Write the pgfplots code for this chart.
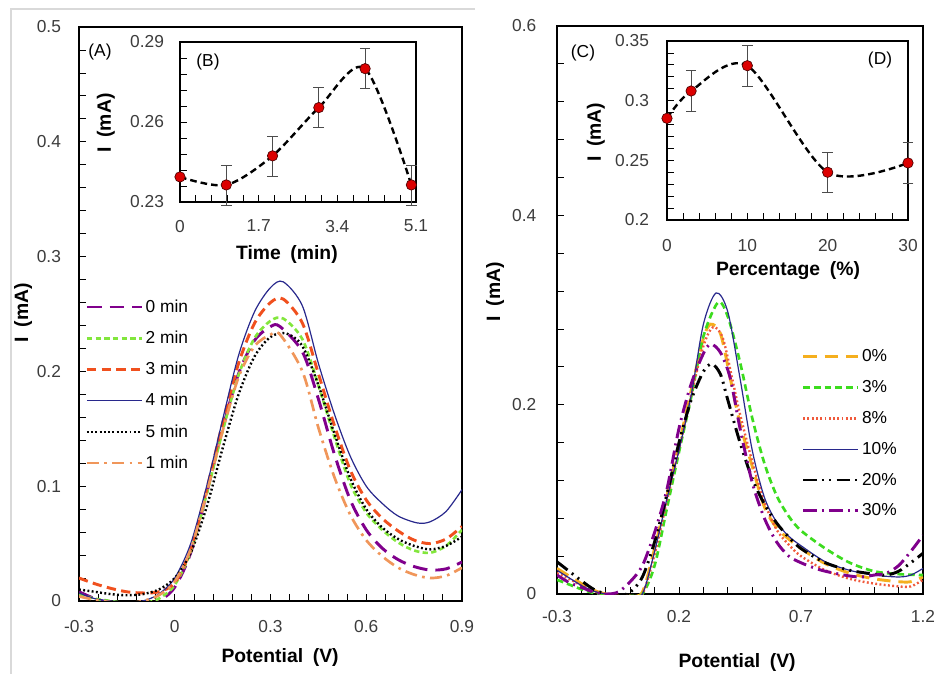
\documentclass[border=0pt]{standalone}
\usepackage{fontspec}
\setmainfont{Liberation Sans}
\usepackage{pgfplots}
\pgfplotsset{compat=1.18}

\definecolor{cpurple}{RGB}{128,0,140}
\definecolor{cgreen}{RGB}{130,230,60}
\definecolor{cred}{RGB}{240,80,30}
\definecolor{cnavy}{RGB}{40,40,140}
\definecolor{corange}{RGB}{240,150,90}
\definecolor{cgold}{RGB}{245,175,30}
\definecolor{cgreen2}{RGB}{60,220,30}
\definecolor{ccoral}{RGB}{240,90,60}
\definecolor{ticktext}{RGB}{60,60,60}
\definecolor{mkred}{RGB}{220,0,0}

\pgfplotsset{
  panel/.style={
    scale only axis,
    axis line style={line width=0.8pt},
    tick align=inside,
    tick pos=left,
    major tick length=5pt, minor tick length=5pt,
    tick style={black, line width=0.6pt},
    tick label style={font=\fontsize{13}{15}\selectfont, text=ticktext},
    label style={font=\bfseries\fontsize{14.5}{17}\selectfont},
    minor x tick num=4, minor y tick num=4,
  },
  leg/.style={
    legend style={draw=none, fill=none, inner sep=0pt, row sep=8.5pt,
      font=\fontsize{13}{15}\selectfont, cells={anchor=west}},
    legend image code/.code={\draw[##1] (0pt,0pt) -- (41pt,0pt);},
  },
  errpts/.style={only marks, mark=*, mark size=3.9pt,
    mark options={fill=mkred, draw=black!70!red, line width=0.5pt},
    error bars/.cd, y dir=both, y explicit,
    error bar style={black!70, line width=0.5pt},
    error mark options={rotate=90, mark size=4pt, black!70, line width=0.5pt}},
  pts/.style={only marks, mark=*, mark size=3.9pt,
    mark options={fill=mkred, draw=black!70!red, line width=0.5pt}},
}

\begin{document}
\begin{tikzpicture}
\useasboundingbox (0,0) rectangle (703.5pt,505.5pt);
\draw[black!15, line width=0.8pt] (8.25pt,0pt) -- (8.25pt,498.75pt) -- (356pt,498.75pt);

% ---------------- (A) ----------------
\begin{axis}[panel, leg, at={(59.25pt,54.75pt)}, anchor=south west,
  width=287.25pt, height=430.5pt,
  xmin=-0.3, xmax=0.9, ymin=0, ymax=0.5,
  xtick={-0.3,0,0.3,0.6,0.9}, xticklabels={-0.3,0,0.3,0.6,0.9},
  ytick={0,0.1,0.2,0.3,0.4,0.5}, yticklabels={0,0.1,0.2,0.3,0.4,0.5},
  xticklabel style={yshift=-11pt}, yticklabel style={xshift=-10pt},
  xlabel={Potential\enspace(V)}, ylabel={I\enspace(mA)},
  xlabel style={at={(axis description cs:0.525,-0.099)}, anchor=center},
  ylabel style={at={(axis description cs:-0.146,0.502)}, anchor=center},
  legend style={at={(axis description cs:0.016,0.53)}, anchor=north west},
]
\addplot[cpurple, line width=2.2pt, dash pattern=on 11pt off 6pt, smooth] coordinates {
(-0.3,0.008)(-0.25,0.002)(-0.2,-0.002)(-0.15,-0.004)(-0.1,-0.003)(-0.05,0.0)(0,0.012)(0.05,0.042)(0.1,0.094)(0.15,0.15)(0.2,0.198)(0.25,0.227)(0.3,0.239)(0.33,0.239)(0.4,0.217)(0.45,0.176)(0.5,0.128)(0.55,0.088)(0.6,0.062)(0.65,0.046)(0.7,0.036)(0.75,0.03)(0.8,0.027)(0.85,0.028)(0.9,0.034)};
\addlegendentry{0 min}
\addplot[cgreen, line width=2pt, dash pattern=on 4pt off 2.5pt, smooth] coordinates {
(-0.3,0.006)(-0.25,0.002)(-0.2,0.0)(-0.15,-0.002)(-0.1,-0.002)(-0.05,0.002)(0,0.014)(0.05,0.043)(0.1,0.093)(0.15,0.148)(0.2,0.197)(0.25,0.229)(0.3,0.244)(0.34,0.246)(0.4,0.228)(0.45,0.188)(0.5,0.143)(0.55,0.102)(0.6,0.077)(0.65,0.062)(0.7,0.051)(0.75,0.044)(0.8,0.042)(0.85,0.048)(0.9,0.062)};
\addlegendentry{2 min}
\addplot[cred, line width=2.2pt, dash pattern=on 7pt off 4pt, smooth] coordinates {
(-0.3,0.02)(-0.25,0.015)(-0.2,0.011)(-0.15,0.008)(-0.1,0.007)(-0.05,0.008)(0,0.016)(0.05,0.045)(0.1,0.097)(0.15,0.155)(0.2,0.207)(0.25,0.242)(0.3,0.26)(0.34,0.263)(0.4,0.242)(0.45,0.198)(0.5,0.153)(0.55,0.114)(0.6,0.088)(0.65,0.072)(0.7,0.061)(0.75,0.053)(0.8,0.05)(0.85,0.054)(0.9,0.065)};
\addlegendentry{3 min}
\addplot[cnavy, line width=0.9pt, smooth] coordinates {
(-0.3,0.007)(-0.25,0.002)(-0.2,0.0)(-0.15,-0.001)(-0.1,0.0)(-0.05,0.006)(0,0.02)(0.05,0.05)(0.1,0.1)(0.15,0.158)(0.2,0.214)(0.25,0.252)(0.3,0.273)(0.34,0.278)(0.4,0.257)(0.45,0.207)(0.5,0.163)(0.55,0.126)(0.6,0.1)(0.65,0.085)(0.7,0.074)(0.76,0.068)(0.8,0.069)(0.85,0.078)(0.9,0.097)};
\addlegendentry{4 min}
\addplot[black, line width=1.8pt, dash pattern=on 1.4pt off 1.8pt, smooth] coordinates {
(-0.3,0.01)(-0.25,0.008)(-0.2,0.006)(-0.15,0.005)(-0.1,0.006)(-0.05,0.01)(0,0.02)(0.05,0.042)(0.1,0.082)(0.15,0.133)(0.2,0.18)(0.25,0.213)(0.3,0.23)(0.35,0.233)(0.4,0.222)(0.45,0.188)(0.5,0.146)(0.55,0.107)(0.6,0.08)(0.65,0.064)(0.7,0.054)(0.75,0.048)(0.8,0.045)(0.85,0.048)(0.9,0.056)};
\addlegendentry{5 min}
\addplot[corange, line width=2pt, dash pattern=on 9pt off 4pt on 2pt off 4pt, smooth] coordinates {
(-0.3,0.004)(-0.25,0.001)(-0.2,-0.001)(-0.15,-0.002)(-0.1,0.0)(-0.05,0.005)(0,0.017)(0.05,0.045)(0.1,0.094)(0.15,0.148)(0.2,0.195)(0.25,0.222)(0.3,0.232)(0.33,0.232)(0.4,0.2)(0.45,0.151)(0.5,0.108)(0.55,0.075)(0.6,0.053)(0.65,0.039)(0.7,0.029)(0.75,0.023)(0.8,0.02)(0.85,0.022)(0.9,0.029)};
\addlegendentry{1 min}
\end{axis}

% ---------------- (B) ----------------
\begin{axis}[panel, at={(135pt,354pt)}, anchor=south west,
  width=177pt, height=120pt,
  xmin=0, xmax=5.1, ymin=0.23, ymax=0.29,
  xtick={0,1.7,3.4,5.1}, xticklabels={0,1.7,3.4,5.1},
  ytick={0.23,0.26,0.29}, yticklabels={0.23,0.26,0.29},
  xticklabel style={yshift=-10pt}, yticklabel style={xshift=-8.5pt},
  xlabel={Time\enspace(min)}, ylabel={I\enspace(mA)},
  xlabel style={at={(axis description cs:0.453,-0.33)}, anchor=center},
  ylabel style={at={(axis description cs:-0.314,0.494)}, anchor=center},
  clip=false,
]
\addplot[black, line width=1.8pt, dash pattern=on 5pt off 3pt, smooth] coordinates {
(0,0.2394)(1,0.2364)(2,0.2473)(3,0.2654)(4,0.28)(5,0.2364)};
\addplot[errpts] coordinates {
(1,0.2364) +- (0,0.0075)
(2,0.2473) +- (0,0.0075)
(3,0.2654) +- (0,0.0075)
(4,0.2800) +- (0,0.0075)
(5,0.2364) +- (0,0.0075)};
\addplot[pts] coordinates {(0,0.2394)};
\end{axis}

% ---------------- (C) ----------------
\begin{axis}[panel, leg, at={(417.75pt,60pt)}, anchor=south west,
  width=274.5pt, height=426pt,
  xmin=-0.3, xmax=1.2, ymin=0, ymax=0.6,
  xtick={-0.3,0.2,0.7,1.2}, xticklabels={-0.3,0.2,0.7,1.2},
  ytick={0,0.2,0.4,0.6}, yticklabels={0,0.2,0.4,0.6},
  xticklabel style={yshift=-8.5pt}, yticklabel style={xshift=-12pt},
  xlabel={Potential\enspace(V)}, ylabel={I\enspace(mA)},
  xlabel style={at={(axis description cs:0.492,-0.12)}, anchor=center},
  ylabel style={at={(axis description cs:-0.169,0.532)}, anchor=center},
  legend style={at={(axis description cs:0.668,0.435)}, anchor=north west},
]
\addplot[cgold, line width=2.2pt, dash pattern=on 10pt off 6pt, smooth] coordinates {
(-0.3,0.027)(-0.25,0.019)(-0.2,0.011)(-0.15,0.004)(-0.1,0.0)(-0.05,-0.002)(0,-0.002)(0.05,0.002)(0.1,0.048)(0.15,0.103)(0.2,0.158)(0.25,0.215)(0.3,0.27)(0.33,0.285)(0.37,0.275)(0.41,0.228)(0.45,0.18)(0.5,0.135)(0.55,0.092)(0.6,0.07)(0.65,0.058)(0.7,0.048)(0.8,0.032)(0.9,0.022)(1.0,0.016)(1.1,0.013)(1.15,0.013)(1.2,0.018)};
\addlegendentry{0\%}
\addplot[cgreen2, line width=2pt, dash pattern=on 5pt off 3pt, smooth] coordinates {
(-0.3,0.015)(-0.25,0.01)(-0.2,0.005)(-0.15,0.001)(-0.1,-0.002)(0,-0.002)(0.05,0.0)(0.1,0.03)(0.15,0.09)(0.2,0.15)(0.25,0.208)(0.3,0.272)(0.36,0.308)(0.4,0.293)(0.45,0.245)(0.5,0.186)(0.55,0.138)(0.6,0.104)(0.65,0.082)(0.7,0.067)(0.8,0.048)(0.9,0.033)(1.0,0.024)(1.1,0.021)(1.2,0.02)};
\addlegendentry{3\%}
\addplot[ccoral, line width=1.8pt, dash pattern=on 1.4pt off 1.8pt, smooth] coordinates {
(-0.3,0.022)(-0.25,0.016)(-0.2,0.009)(-0.15,0.003)(-0.1,0.0)(-0.05,-0.002)(0,-0.002)(0.05,0.0)(0.1,0.042)(0.15,0.098)(0.2,0.153)(0.25,0.21)(0.3,0.262)(0.34,0.282)(0.38,0.27)(0.42,0.225)(0.45,0.19)(0.5,0.14)(0.55,0.097)(0.6,0.068)(0.65,0.052)(0.7,0.04)(0.8,0.025)(0.9,0.016)(1.0,0.011)(1.1,0.008)(1.15,0.008)(1.2,0.015)};
\addlegendentry{8\%}
\addplot[cnavy, line width=0.9pt, smooth] coordinates {
(-0.3,0.025)(-0.25,0.017)(-0.2,0.009)(-0.15,0.003)(-0.1,0.0)(-0.05,-0.002)(0,-0.002)(0.05,0.0)(0.1,0.045)(0.15,0.1)(0.2,0.152)(0.25,0.21)(0.3,0.285)(0.352,0.318)(0.4,0.298)(0.45,0.228)(0.5,0.152)(0.55,0.102)(0.6,0.076)(0.65,0.061)(0.7,0.051)(0.8,0.034)(0.9,0.025)(1.0,0.02)(1.1,0.018)(1.15,0.02)(1.2,0.027)};
\addlegendentry{10\%}
\addplot[black, line width=2.2pt, dash pattern=on 10pt off 4pt on 1.5pt off 4pt on 1.5pt off 4pt, smooth] coordinates {
(-0.3,0.034)(-0.25,0.024)(-0.2,0.014)(-0.15,0.005)(-0.1,0.0)(-0.05,-0.002)(0,0.002)(0.05,0.018)(0.1,0.055)(0.15,0.105)(0.2,0.16)(0.25,0.205)(0.3,0.235)(0.335,0.243)(0.37,0.232)(0.4,0.205)(0.45,0.16)(0.5,0.122)(0.55,0.095)(0.6,0.075)(0.65,0.06)(0.7,0.048)(0.8,0.033)(0.9,0.025)(1.0,0.021)(1.05,0.02)(1.1,0.024)(1.15,0.033)(1.2,0.043)};
\addlegendentry{20\%}
\addplot[cpurple, line width=2.2pt, dash pattern=on 10pt off 4pt on 1.5pt off 4pt, smooth] coordinates {
(-0.3,0.02)(-0.25,0.012)(-0.2,0.007)(-0.15,0.002)(-0.1,0.0)(-0.05,0.002)(0,0.013)(0.05,0.03)(0.1,0.065)(0.15,0.11)(0.2,0.175)(0.25,0.222)(0.3,0.254)(0.33,0.264)(0.37,0.255)(0.41,0.228)(0.45,0.175)(0.5,0.118)(0.55,0.08)(0.6,0.055)(0.65,0.04)(0.7,0.033)(0.75,0.028)(0.8,0.024)(0.9,0.019)(0.95,0.018)(1.0,0.02)(1.05,0.022)(1.1,0.03)(1.15,0.045)(1.2,0.062)};
\addlegendentry{30\%}
\end{axis}

% ---------------- (D) ----------------
\begin{axis}[panel, at={(500.25pt,340.5pt)}, anchor=south west,
  width=180.75pt, height=134.25pt,
  xmin=0, xmax=30, ymin=0.2, ymax=0.35,
  xtick={0,10,20,30}, xticklabels={0,10,20,30},
  ytick={0.2,0.25,0.3,0.35}, yticklabels={0.2,0.25,0.3,0.35},
  xticklabel style={yshift=-11pt}, yticklabel style={xshift=-10pt},
  xlabel={Percentage\enspace(\%)}, ylabel={I\enspace(mA)},
  xlabel style={at={(axis description cs:0.502,-0.285)}, anchor=center},
  ylabel style={at={(axis description cs:-0.295,0.49)}, anchor=center},
  clip=false,
]
\addplot[black, line width=1.8pt, dash pattern=on 5pt off 3pt, smooth] coordinates {
(0,0.2852)(3,0.3081)(10,0.3293)(20,0.240)(30,0.2478)};
\addplot[errpts] coordinates {
(3,0.3081) +- (0,0.0172)
(10,0.3293) +- (0,0.0172)
(20,0.2400) +- (0,0.0168)
(30,0.2478) +- (0,0.0172)};
\addplot[pts] coordinates {(0,0.2852)};
\end{axis}

\node[font=\fontsize{13}{15}\selectfont] at (75pt,466.5pt) {(A)};
\node[font=\fontsize{13}{15}\selectfont] at (156pt,459pt) {(B)};
\node[font=\fontsize{13}{15}\selectfont] at (437.25pt,465.75pt) {(C)};
\node[font=\fontsize{13}{15}\selectfont] at (660pt,460.5pt) {(D)};
\end{tikzpicture}
\end{document}
